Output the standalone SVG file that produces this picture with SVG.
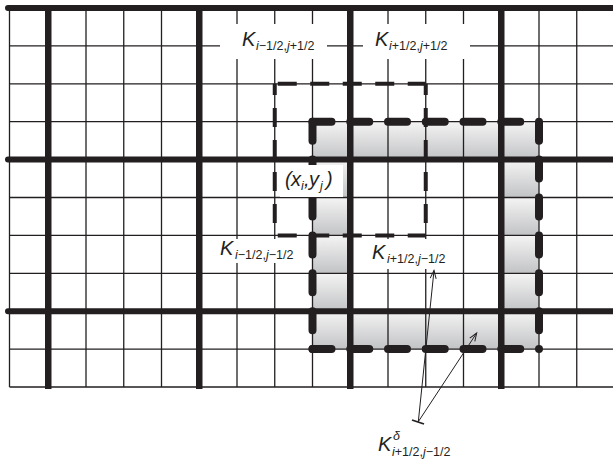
<svg xmlns="http://www.w3.org/2000/svg" width="613" height="465" viewBox="0 0 613 465">
<defs>
<style>
.thin{stroke:#231f20;stroke-width:1.3;fill:none}
.thick{stroke:#231f20;stroke-width:6.5;fill:none}
.hthick{stroke:#231f20;stroke-width:6;fill:none;stroke-linecap:round}
.d1{stroke:#231f20;stroke-width:4;fill:none}
.d2{stroke:#231f20;stroke-width:8;fill:none;stroke-linecap:round}
.box{fill:#ffffff}
.K{font-family:"Liberation Sans",Arial,sans-serif;font-style:italic;font-size:20px;fill:#231f20}
.s{font-family:"Liberation Sans",Arial,sans-serif;font-size:12.5px;fill:#231f20}
.it{font-style:italic}
.arr{stroke:#231f20;stroke-width:1;fill:none}
</style>
<linearGradient id="gg" x1="0" y1="0" x2="0" y2="1">
<stop offset="0" stop-color="#f4f4f4"/>
<stop offset="1" stop-color="#c2c3c5"/>
</linearGradient>
<pattern id="gp" patternUnits="userSpaceOnUse" x="312.5" y="121.7" width="37.75" height="37.9">
<rect width="37.75" height="37.9" fill="url(#gg)"/>
</pattern>
<marker id="ah" viewBox="-10 -5 12 10" refX="0" refY="0" markerWidth="12" markerHeight="10" markerUnits="userSpaceOnUse" orient="auto">
<path d="M-8,-3 L0,0 L-8,3" fill="none" stroke="#231f20" stroke-width="1"/>
</marker>
</defs>
<rect width="613" height="465" fill="#ffffff"/>
<g id="shading">
<path d="M312.5,121.7 H539 V349.1 H312.5 Z M350.25,159.6 V311.2 H501.25 V159.6 Z" fill="url(#gp)" fill-rule="evenodd"/>
</g>
<g id="grid">
<path class="thin" d="M9.5,8 V387 M86,8 V387 M123.75,8 V387 M161.5,8 V387 M237,8 V387 M274.75,8 V387 M312.5,8 V387 M388,8 V387 M425.75,8 V387 M463.5,8 V387 M539,8 V387 M576.75,8 V387"/>
<path class="thin" d="M9.5,45.9 H613 M9.5,83.8 H613 M9.5,121.7 H613 M9.5,197.5 H613 M9.5,235.4 H613 M9.5,273.3 H613 M9.5,349.1 H613 M9.5,387 H613"/>
<path class="thick" d="M48.25,8 V389 M199.25,8 V389 M350.25,8 V389 M501.25,8 V389"/>
<path class="hthick" d="M8,8 H616 M8,159.6 H616 M8,311.2 H616"/>
</g>
<g id="boxes">
<rect class="box" x="220" y="24" width="107" height="35"/>
<rect class="box" x="363" y="24" width="107" height="35"/>
<rect class="box" x="215" y="239" width="90" height="24"/>
<rect class="box" x="368" y="239" width="82" height="30"/>
</g>
<g id="connectors">
<path class="d1" d="M274.75,83.8 H425.75 M274.75,235.4 H425.75" stroke-dasharray="19 13.5" stroke-dashoffset="-3"/>
<path class="d1" d="M274.75,83.8 V235.4 M425.75,83.8 V235.4" stroke-dasharray="19 13" stroke-dashoffset="7.8"/>
<path class="d2" d="M312.5,121.7 H539 M312.5,349.1 H539" stroke-dasharray="19 18.75"/>
<path class="d2" d="M312.5,121.7 V349.1 M539,121.7 V349.1" stroke-dasharray="19 18.9"/>
<path class="arr" d="M418.3,421.7 L434,270.5" marker-end="url(#ah)"/>
<path class="arr" d="M418.3,421.7 L476.7,333" marker-end="url(#ah)"/>
<path d="M412,420 L424,424" stroke="#231f20" stroke-width="1.8"/>
</g>
<g id="node-xy">
<rect class="box" x="280" y="165" width="63" height="32"/>
<text class="K" y="186"><tspan x="285">(</tspan><tspan x="291">x</tspan><tspan class="s it" x="301" y="190">i</tspan><tspan x="304" y="186">,</tspan><tspan x="309">y</tspan><tspan class="s it" x="320" y="190">j</tspan><tspan x="326" y="186">)</tspan></text>
</g>
<g id="label-K1">
<text class="K" x="242" y="46">K</text>
<text class="s" x="256" y="50"><tspan class="it">i</tspan>−1/2,<tspan class="it">j</tspan>+1/2</text>
</g>
<g id="label-K2">
<text class="K" x="375" y="46">K</text>
<text class="s" x="389" y="50"><tspan class="it">i</tspan>+1/2,<tspan class="it">j</tspan>+1/2</text>
</g>
<g id="label-K3">
<text class="K" x="220" y="255">K</text>
<text class="s" x="235" y="259"><tspan class="it">i</tspan>−1/2,<tspan class="it">j</tspan>−1/2</text>
</g>
<g id="label-K4">
<text class="K" x="372" y="259">K</text>
<text class="s" x="387" y="263"><tspan class="it">i</tspan>+1/2,<tspan class="it">j</tspan>−1/2</text>
</g>
<g id="label-Kd">
<text class="K" x="378" y="451">K</text>
<text class="s it" x="393" y="440">δ</text>
<text class="s" x="392" y="456"><tspan class="it">i</tspan>+1/2,<tspan class="it">j</tspan>−1/2</text>
</g>
</svg>
